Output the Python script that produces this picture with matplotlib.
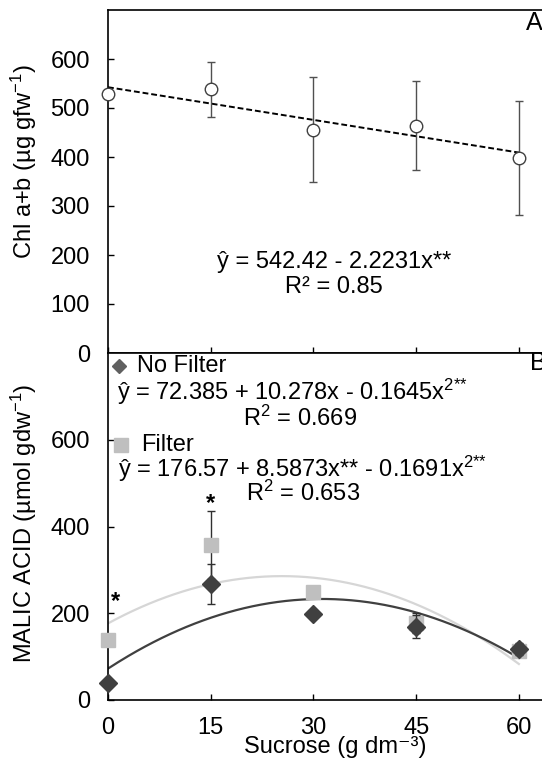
import numpy as np
import matplotlib
matplotlib.use("Agg")
import matplotlib.pyplot as plt

plt.rcParams['font.family'] = ['Liberation Sans', 'DejaVu Sans']
plt.rcParams['mathtext.fontset'] = 'custom'
plt.rcParams['mathtext.rm'] = 'Liberation Sans'
plt.rcParams['mathtext.it'] = 'Liberation Sans'
plt.rcParams['mathtext.default'] = 'regular'

# Sucrose levels (g dm-3)
sucrose = [0, 15, 30, 45, 60]

# Panel A: chlorophyll a+b
chl_mean = [528, 538, 456, 464, 398]
chl_err = [6, 56, 108, 91, 117]
chl_coef = [542.42, -2.2231]

# Panel B: malic acid
malic_nofilter = [40, 267, 198, 169, 118]
malic_nofilter_err = [5, 46, 6, 27, 14]
malic_filter = [138, 358, 250, 177, 113]
malic_filter_err = [5, 78, 6, 23, 6]
coef_nofilter = [72.385, 10.278, -0.1645]
coef_filter = [176.57, 8.5873, -0.1691]

FS = 17
W, H = 542, 765
fig = plt.figure(figsize=(W / 100, H / 100), dpi=100)

left = 108 / W
width = 454 / W
axA = fig.add_axes([left, 1 - 353 / H, width, 343 / H])
axB = fig.add_axes([left, 1 - 700 / H, width, 347 / H])

for ax in (axA, axB):
    for s in ax.spines.values():
        s.set_linewidth(1.2)
    ax.tick_params(direction='in', length=4, width=1, labelsize=FS)
    ax.set_xlim(0, 66.3)
    ax.set_xticks(sucrose)

# ---- Panel A ----
xs = np.linspace(0, 60, 200)
axA.plot(xs, chl_coef[0] + chl_coef[1] * xs, ls=(0, (3, 1.5)), color='black', lw=1.4, zorder=2)
axA.errorbar(sucrose, chl_mean, yerr=chl_err, fmt='o', ms=9, mfc='white', mec='#404040',
             mew=1.0, ecolor='#505050', elinewidth=1.0, capsize=3, capthick=1.0, zorder=3,
             clip_on=False)
axA.set_ylim(0, 700)
axA.set_yticks(range(0, 601, 100))
axA.tick_params(axis='x', labelbottom=False)
axA.tick_params(axis='y', pad=13)
axA.set_ylabel('Chl a+b (µg gfw$^{-1}$)', fontsize=FS)
axA.yaxis.set_label_coords(-0.152, 0.557)
axA.text(33, 186, 'ŷ = 542.42 - 2.2231x**', fontsize=FS, ha='center', va='center')
axA.text(33, 135, 'R² = 0.85', fontsize=FS, ha='center', va='center')
axA.text(61.0, 673, 'A', fontsize=FS + 1, ha='left', va='center')

# ---- Panel B ----
axB.plot(xs, coef_filter[0] + coef_filter[1] * xs + coef_filter[2] * xs ** 2,
         color='#d6d6d6', lw=1.6, zorder=2)
axB.plot(xs, coef_nofilter[0] + coef_nofilter[1] * xs + coef_nofilter[2] * xs ** 2,
         color='#404040', lw=1.6, zorder=2)
axB.errorbar(sucrose, malic_filter, yerr=malic_filter_err, fmt='s', ms=10, mfc='#bfbfbf',
             mec='#bfbfbf', ecolor='#303030', elinewidth=1.0, capsize=3, capthick=1.0, zorder=3,
             clip_on=False)
axB.errorbar(sucrose, malic_nofilter, yerr=malic_nofilter_err, fmt='D', ms=9, mfc='#404040',
             mec='#404040', ecolor='#303030', elinewidth=1.0, capsize=3, capthick=1.0, zorder=4,
             clip_on=False)
axB.set_ylim(0, 800)
axB.set_yticks(range(0, 601, 200))
axB.tick_params(axis='y', pad=13)
axB.tick_params(axis='x', pad=12)
axB.set_ylabel('MALIC ACID (µmol gdw$^{-1}$)', fontsize=FS)
axB.yaxis.set_label_coords(-0.152, 0.51)
axB.set_xlabel('Sucrose (g dm⁻³)', fontsize=FS, labelpad=-2)

# significance marks
axB.text(0.5, 226, '*', fontsize=FS, ha='left', va='center', fontweight='bold')
axB.text(15, 452, '*', fontsize=FS, ha='center', va='center', fontweight='bold')

# series key and fitted equations
axB.plot([1.6], [769], marker='D', ms=7, color='#606060', ls='none', clip_on=False)
axB.text(4.3, 769, 'No Filter', fontsize=FS, ha='left', va='center')
axB.text(1.3, 711, 'ŷ = 72.385 + 10.278x - 0.1645x$^{2{*}{*}}$', fontsize=FS, ha='left', va='center')
axB.text(28, 649, 'R$^2$ = 0.669', fontsize=FS, ha='center', va='center')
axB.plot([1.9], [587], marker='s', ms=10, color='#bfbfbf', ls='none')
axB.text(4.9, 587, 'Filter', fontsize=FS, ha='left', va='center')
axB.text(1.5, 533, 'ŷ = 176.57 + 8.5873x** - 0.1691x$^{2{*}{*}}$', fontsize=FS, ha='left', va='center')
axB.text(28.5, 476, 'R$^2$ = 0.653', fontsize=FS, ha='center', va='center')
axB.text(61.6, 778, 'B', fontsize=FS + 1, ha='left', va='center')

fig.savefig('out.png', dpi=100)
